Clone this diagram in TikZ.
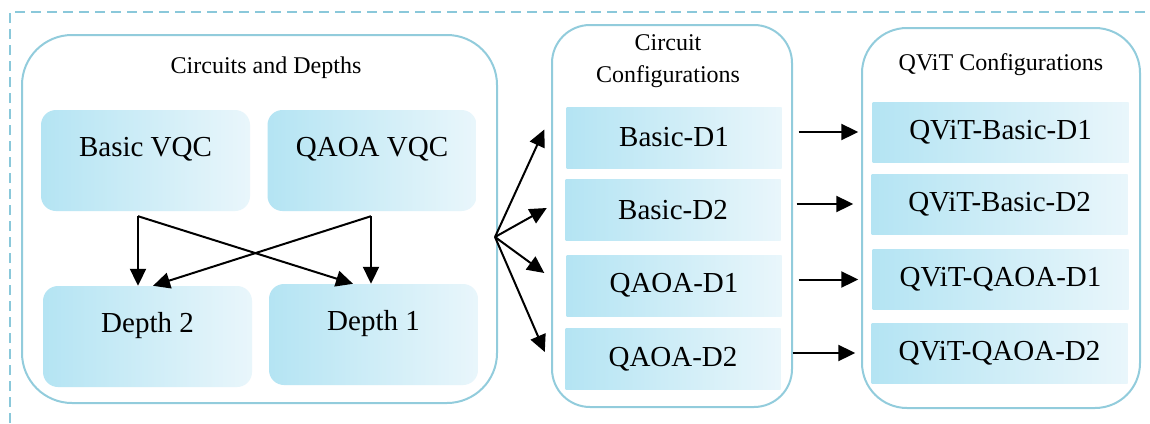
\documentclass[tikz,border=0pt]{standalone}
\usepackage{fontspec}
\setmainfont{Liberation Serif}
\usetikzlibrary{arrows.meta,calc}
\definecolor{frameblue}{RGB}{146,204,220}
\definecolor{dashblue}{RGB}{138,200,218}
\definecolor{boxleft}{RGB}{180,228,243}
\definecolor{boxright}{RGB}{233,246,251}
\newcommand\boxfont{\fontsize{29}{34}\selectfont}
\newcommand\titlefont{\fontsize{24}{32}\selectfont}
\begin{document}
\begin{tikzpicture}[x=1pt, y=-1pt,
  panel/.style={draw=frameblue, line width=2pt, rounded corners=#1, fill=white, inner sep=0pt},
  ptitle/.style={font=\titlefont, align=center, inner sep=0pt},
  rbox/.style={rounded corners=15pt, left color=boxleft, right color=boxright, minimum width=209pt,
    minimum height=101pt, text height=20pt, text depth=28pt, inner sep=0pt, font=\boxfont},
  cbox/.style={left color=boxleft, right color=boxright, minimum width=215pt, minimum height=61pt,
    inner sep=0pt, font=\boxfont},
  qbox/.style={cbox, minimum width=256pt, minimum height=60pt},
  arr/.style={line width=2pt, -{Triangle[length=17pt,width=16pt]}}]
\useasboundingbox (0,0) rectangle (1150,423);
\draw[dashblue, line width=2.8pt, dash pattern=on 10pt off 6pt] (10,423) -- (10,12) -- (1150,12);

% panels
\path (259.5,219) node (p1) [panel=50pt, minimum width=475pt, minimum height=368pt] {};
\path (672,216) node (p2) [panel=38pt, minimum width=240pt, minimum height=382pt] {};
\path (1001,218) node (p3) [panel=45pt, minimum width=278pt, minimum height=380pt] {};
\path (266,68) node (t1) [ptitle] {Circuits and Depths};
\path (668,61) node (t2) [ptitle] {Circuit\\Configurations};
\path (1001,65) node (t3) [ptitle] {QViT Configurations};

% circuits and depths
\path (145.5,160.5) node (bvqc) [rbox] {Basic VQC};
\path (372,160.5) node (qvqc) [rbox] {QAOA VQC};
\path (147.5,336.5) node (dep2) [rbox] {Depth 2};
\path (373.5,334.5) node (dep1) [rbox] {Depth 1};
\draw[arr] ([shift={(-7.5,5)}]bvqc.south) -- ([xshift=-9.5pt]dep2.north);
\draw[arr] ([shift={(-7.5,5)}]bvqc.south) -- ([xshift=-20.5pt]dep1.north);
\draw[arr] ([shift={(-1,5)}]qvqc.south) -- ([xshift=-2.5pt]dep1.north);
\draw[arr] ([shift={(-1,5)}]qvqc.south) -- ([xshift=5.5pt]dep2.north);

% circuit configurations
\path (674,137.5) node (c1) [cbox] {Basic-D1};
\path (673,210) node (c2) [cbox] {Basic-D2};
\path (674,285.5) node (c3) [cbox] {QAOA-D1};
\path (673,359) node (c4) [cbox] {QAOA-D2};
\coordinate (fan) at (495,237);
\draw[arr] (fan) -- ($(c1.west)+(-22,-8)$);
\draw[arr] (fan) -- ($(c2.west)+(-18.5,-2)$);
\draw[arr] (fan) -- ($(c3.west)+(-22,-12.5)$);
\draw[arr] (fan) -- ($(c4.west)+(-20.5,-7)$);

% qvit configurations
\path (1000.5,132) node (q1) [qbox] {QViT-Basic-D1};
\path (999.5,204) node (q2) [qbox] {QViT-Basic-D2};
\path (1000.5,279.5) node (q3) [qbox] {QViT-QAOA-D1};
\path (999.5,353) node (q4) [qbox] {QViT-QAOA-D2};
\draw[arr] ($(c1.east |- q1.west)+(17,0)$) -- ($(q1.west)+(-14,0)$);
\draw[arr] ($(c2.east |- q2.west)+(16,0)$) -- ($(q2.west)+(-18,0)$);
\draw[arr] ($(c3.east |- q3.west)+(17,0)$) -- ($(q3.west)+(-14,0)$);
\draw[arr] ($(c4.east |- q4.west)+(12,0)$) -- ($(q4.west)+(-16,0)$);
\end{tikzpicture}
\end{document}
